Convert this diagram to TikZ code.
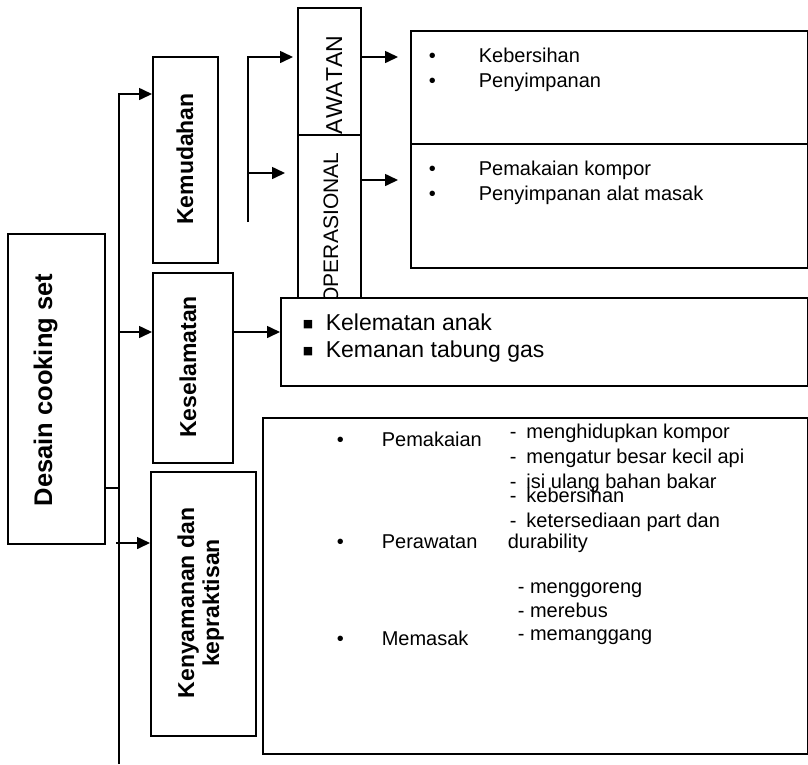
\documentclass[tikz,border=0pt]{standalone}
\usepackage{fontspec}
\setmainfont{Liberation Sans}[Kerning=Off]
\newfontfamily\dejavu{DejaVu Sans}
\usetikzlibrary{arrows.meta}
\begin{document}
\begin{tikzpicture}[x=1pt,y=-1pt,
  line width=1.6pt,
  box/.style={draw, line width=1.6pt, anchor=north west, inner sep=0pt, fill=white},
  arr/.style={-{Triangle[length=13pt,width=12pt]}, line width=1.6pt},
  lbl/.style={inner sep=0pt, rotate=90, anchor=base, align=center,
              font=\fontsize{23}{25}\selectfont\bfseries},
  vtext/.style={inner sep=0pt, rotate=90, anchor=base east,
              font=\fontsize{21}{24}\selectfont},
  txt/.style={inner sep=0pt, anchor=base west, font=\fontsize{20}{24}\selectfont},
  bigtxt/.style={inner sep=0pt, anchor=base west, font=\fontsize{23}{26}\selectfont},
]
\useasboundingbox (0,0) rectangle (808,764);

% ---------- boxes ----------
\node[box, minimum width=97pt,  minimum height=310pt] (desain) at (7,233) {};
\node[box, minimum width=65pt,  minimum height=206pt] (kem)    at (152,56) {};
\node[box, minimum width=80pt,  minimum height=190pt] (kes)    at (152,272) {};
\node[box, minimum width=105pt, minimum height=264pt] (ken)    at (150,471) {};
\node[box, minimum width=63pt,  minimum height=127pt] (per)    at (297,7) {};
\node[box, minimum width=63pt,  minimum height=163pt] (ops)    at (297,134) {};
\node[box, minimum width=397pt, minimum height=113pt] (rtop)   at (410,30) {};
\node[box, minimum width=397pt, minimum height=124pt] (rmid)   at (410,143) {};
\node[box, minimum width=545pt, minimum height=336pt] (bigbox) at (262,417) {};

% ---------- rotated labels ----------
\node[lbl, font=\fontsize{25.5}{28}\selectfont\bfseries] (tdesain) at (52,390) {Desain cooking set};
\node[lbl] (tkem) at (193,159) {Kemudahan};
\node[lbl] (tkes) at (196,367) {Keselamatan};
\node[lbl] (tken) at (219,603) {Kenyamanan dan\\kepraktisan};

\begin{scope}
  \clip (per.north west) rectangle (per.south east);
  \node[vtext, font=\fontsize{23}{25}\selectfont] (tper) at (342,35) {PERAWATAN};
\end{scope}
\node[vtext] (tops) at (338,152) {OPERASIONAL};

% box drawn over the bottom of OPERASIONAL
\node[box, minimum width=527pt, minimum height=88pt] (kelem) at (280,297) {};

% ---------- connectors ----------
\coordinate (trunkTop) at (119,94);
\coordinate (trunkBot) at (119,764);
\coordinate (dj) at (119,488);
\coordinate (j2) at (119,332);
\coordinate (j3) at (116,543);
\coordinate (b1) at (248,57);
\coordinate (b2) at (248,222);
\coordinate (b3) at (248,173);
\coordinate (c1) at (360,57);
\coordinate (c2) at (360,180);

\draw[arr] (trunkBot) -- (trunkTop) -- (kem.west |- trunkTop);
\draw (desain.east |- dj) -- (dj);
\draw[arr] (j2) -- (kes.west |- j2);
\draw[arr] (j3) -- (ken.west |- j3);
\draw[arr] (b2) -- (b1) -- ([xshift=-4pt]per.west |- b1);
\draw[arr] (b3) -- ([xshift=-12pt]ops.west |- b3);
\draw[arr] (per.east |- c1) -- ([xshift=-12pt]rtop.west |- c1);
\draw[arr] (ops.east |- c2) -- ([xshift=-12pt]rmid.west |- c2);
\draw[arr] (kes.east |- j2) -- (kelem.west |- j2);

% ---------- texts top right ----------
\node[txt] (bu1) at (428,62) {•};
\node[txt] (t1)  at (478,62) {Kebersihan};
\node[txt] (bu2) at (428,87) {•};
\node[txt] (t2)  at (478,87) {Penyimpanan};
\node[txt] (bu3) at (428,175) {•};
\node[txt] (t3)  at (478,175) {Pemakaian kompor};
\node[txt] (bu4) at (428,200) {•};
\node[txt] (t4)  at (478,200) {Penyimpanan alat masak};

% ---------- Kelematan box ----------
\node[bigtxt] (sq1) at (302,327) {\dejavu\fontsize{11}{13}\selectfont ■};
\node[bigtxt] (k1)  at (325,330) {Kelematan anak};
\node[bigtxt] (sq2) at (302,354) {\dejavu\fontsize{11}{13}\selectfont ■};
\node[bigtxt] (k2)  at (325,357) {Kemanan tabung gas};

% ---------- big box ----------
\node[txt] (bb1) at (336,446) {•};
\node[txt] (p1)  at (381,446) {Pemakaian};
\node[txt] (bb2) at (336,548) {•};
\node[txt] (p2)  at (381,548) {Perawatan};
\node[txt] (bb3) at (336,645) {•};
\node[txt] (p3)  at (381,645) {Memasak};

\node[txt] (d1) at (509,438) {-\hspace{10pt}menghidupkan kompor};
\node[txt] (d2) at (509,463) {-\hspace{10pt}mengatur besar kecil api};
\node[txt] (d3) at (509,488) {-\hspace{10pt}isi ulang bahan bakar};
\node[txt] (d4) at (509,502) {-\hspace{10pt}kebersihan};
\node[txt] (d5) at (509,527) {-\hspace{10pt}ketersediaan part dan};
\node[txt] (d6) at (507,548) {durability};
\node[txt] (m1) at (517,593) {- menggoreng};
\node[txt] (m2) at (517,617) {- merebus};
\node[txt] (m3) at (517,640) {- memanggang};
\end{tikzpicture}
\end{document}
